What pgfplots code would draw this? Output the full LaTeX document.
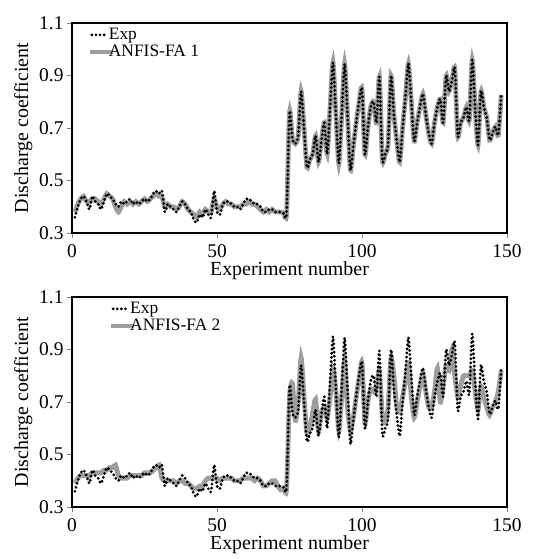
\documentclass[border=0pt]{standalone}
\usepackage{pgfplots}
\pgfplotsset{compat=1.18}
\usepackage{pgfplotstable}
\usepackage{fontspec}
\setmainfont{Liberation Serif}
\definecolor{anfis}{RGB}{158,158,158}

\pgfplotstableread{
x E A B
1 0.36 0.38 0.39
2 0.40 0.41 0.41
3 0.43 0.43 0.42
4 0.44 0.44 0.42
5 0.42 0.42 0.42
6 0.39 0.42 0.42
7 0.44 0.43 0.43
8 0.42 0.43 0.43
9 0.41 0.42 0.43
10 0.39 0.41 0.43
11 0.42 0.43 0.44
12 0.45 0.45 0.44
13 0.44 0.44 0.45
14 0.43 0.43 0.45
15 0.41 0.40 0.46
16 0.40 0.38 0.42
17 0.42 0.40 0.41
18 0.41 0.42 0.41
19 0.42 0.41 0.41
20 0.43 0.42 0.42
21 0.41 0.41 0.42
22 0.42 0.42 0.42
23 0.41 0.41 0.42
24 0.42 0.42 0.42
25 0.43 0.43 0.43
26 0.42 0.42 0.43
27 0.43 0.43 0.43
28 0.45 0.44 0.44
29 0.46 0.45 0.45
30 0.45 0.44 0.46
31 0.46 0.44 0.41
32 0.38 0.40 0.40
33 0.41 0.41 0.40
34 0.40 0.40 0.40
35 0.39 0.40 0.40
36 0.38 0.39 0.39
37 0.40 0.40 0.40
38 0.42 0.42 0.40
39 0.41 0.41 0.39
40 0.39 0.39 0.39
41 0.38 0.38 0.38
42 0.35 0.37 0.37
43 0.34 0.36 0.37
44 0.37 0.38 0.38
45 0.36 0.37 0.38
46 0.39 0.39 0.40
47 0.37 0.38 0.41
48 0.36 0.38 0.41
49 0.46 0.43 0.41
50 0.38 0.40 0.41
51 0.37 0.39 0.40
52 0.41 0.41 0.41
53 0.42 0.42 0.41
54 0.42 0.41 0.41
55 0.41 0.41 0.41
56 0.40 0.40 0.40
57 0.40 0.40 0.40
58 0.39 0.40 0.40
59 0.41 0.41 0.41
60 0.43 0.41 0.41
61 0.43 0.42 0.41
62 0.42 0.41 0.41
63 0.41 0.41 0.40
64 0.41 0.40 0.41
65 0.40 0.39 0.40
66 0.38 0.38 0.38
67 0.38 0.39 0.38
68 0.39 0.38 0.39
69 0.39 0.39 0.40
70 0.38 0.38 0.40
71 0.38 0.38 0.38
72 0.38 0.38 0.365
73 0.375 0.375 0.37
74 0.375 0.375 0.37
75 0.76 0.76 0.72
76 0.66 0.66 0.77
77 0.64 0.64 0.63
78 0.67 0.67 0.70
79 0.84 0.84 0.87
80 0.70 0.70 0.72
81 0.55 0.55 0.58
82 0.58 0.58 0.60
83 0.60 0.60 0.66
84 0.67 0.67 0.71
85 0.57 0.57 0.59
86 0.65 0.65 0.66
87 0.72 0.72 0.68
88 0.60 0.60 0.64
89 0.78 0.78 0.72
90 0.95 0.95 0.83
91 0.75 0.75 0.74
92 0.565 0.565 0.59
93 0.75 0.75 0.72
94 0.945 0.945 0.86
95 0.75 0.75 0.68
96 0.54 0.54 0.59
97 0.63 0.63 0.64
98 0.72 0.72 0.72
99 0.80 0.80 0.79
100 0.85 0.85 0.85
101 0.60 0.60 0.62
102 0.70 0.70 0.70
103 0.78 0.78 0.75
104 0.80 0.80 0.74
105 0.72 0.72 0.76
106 0.895 0.895 0.82
107 0.58 0.58 0.65
108 0.60 0.60 0.62
109 0.64 0.64 0.68
110 0.90 0.90 0.87
111 0.75 0.75 0.80
112 0.65 0.65 0.68
113 0.57 0.57 0.66
114 0.70 0.70 0.72
115 0.82 0.82 0.78
116 0.946 0.946 0.85
117 0.80 0.80 0.72
118 0.65 0.65 0.64
119 0.72 0.72 0.70
120 0.78 0.78 0.76
121 0.83 0.83 0.81
122 0.75 0.75 0.74
123 0.68 0.68 0.68
124 0.64 0.64 0.68
125 0.72 0.72 0.74
126 0.78 0.78 0.83
127 0.81 0.81 0.70
128 0.72 0.72 0.76
129 0.90 0.90 0.84
130 0.84 0.84 0.82
131 0.88 0.88 0.90
132 0.927 0.927 0.80
133 0.67 0.67 0.72
134 0.72 0.72 0.76
135 0.74 0.74 0.80
136 0.78 0.78 0.80
137 0.73 0.73 0.80
138 0.96 0.96 0.82
139 0.78 0.78 0.74
140 0.635 0.635 0.67
141 0.84 0.84 0.76
142 0.78 0.78 0.72
143 0.74 0.74 0.68
144 0.654 0.654 0.65
145 0.68 0.68 0.68
146 0.705 0.705 0.70
147 0.673 0.673 0.74
148 0.826 0.826 0.82
}\data

\pgfplotsset{myaxis/.style={
  width=435bp, height=210bp, scale only axis,
  xmin=0, xmax=150, ymin=0.3, ymax=1.1,
  xtick={0,50,100,150}, ytick={0.3,0.5,0.7,0.9,1.1},
  tick align=outside, tick pos=left,
  major tick length=5bp,
  every tick/.style={gray, line width=0.6pt},
  axis line style={black, line width=1.3pt},
  yticklabel style={/pgf/number format/.cd, fixed, fixed zerofill, precision=1},
  xticklabel style={yshift=-3bp},
  /pgf/number format/assume math mode=true,
  ticklabel style={font=\fontsize{19.5}{22}\selectfont},
  label style={font=\fontsize{20}{23}\selectfont},
  xlabel={Experiment number}, ylabel={Discharge coefficient},
  xlabel style={yshift=-1bp, inner sep=0pt},
  legend style={draw=none, fill=none, font=\fontsize{17.5}{19}\selectfont,
    anchor=north west, row sep=2bp, column sep=-7bp, inner sep=0pt, nodes={inner sep=1bp}},
  legend cell align=left, reverse legend,
}}

\begin{document}
\begin{tikzpicture}
\path[use as bounding box] (-72bp,-326bp) rectangle (468bp,233bp);
\begin{axis}[myaxis, at={(0,0)}, anchor=south west,
  legend style={at={(rel axis cs:0.036,0.98)}}]
\addplot[anfis, line width=4.8bp, smooth, tension=0.4,
  legend image code/.code={\draw[anfis,line width=4bp] (0bp,0bp) -- (23bp,0bp);}]
  table[x=x, y=A] {\data};
\addlegendentry{ANFIS-FA 1}
\addplot[black, line width=3.1bp, dash pattern=on 0pt off 4.1bp, line cap=round, smooth, tension=0.4,
  legend image code/.code={\draw[black,line width=3.1bp,dash pattern=on 0pt off 4.1bp,line cap=round] (2bp,0bp) -- (18bp,0bp);}]
  table[x=x, y=E] {\data};
\addlegendentry{Exp}
\end{axis}
\begin{axis}[myaxis, at={(0,-274bp)}, anchor=south west,
  legend style={at={(rel axis cs:0.085,0.98)}}]
\addplot[anfis, line width=4.8bp, smooth, tension=0.4,
  legend image code/.code={\draw[anfis,line width=4bp] (0bp,0bp) -- (23bp,0bp);}]
  table[x=x, y=B] {\data};
\addlegendentry{ANFIS-FA 2}
\addplot[black, line width=3.1bp, dash pattern=on 0pt off 4.1bp, line cap=round, smooth, tension=0.4,
  legend image code/.code={\draw[black,line width=3.1bp,dash pattern=on 0pt off 4.1bp,line cap=round] (2bp,0bp) -- (18bp,0bp);}]
  table[x=x, y=E] {\data};
\addlegendentry{Exp}
\end{axis}
\end{tikzpicture}
\end{document}
